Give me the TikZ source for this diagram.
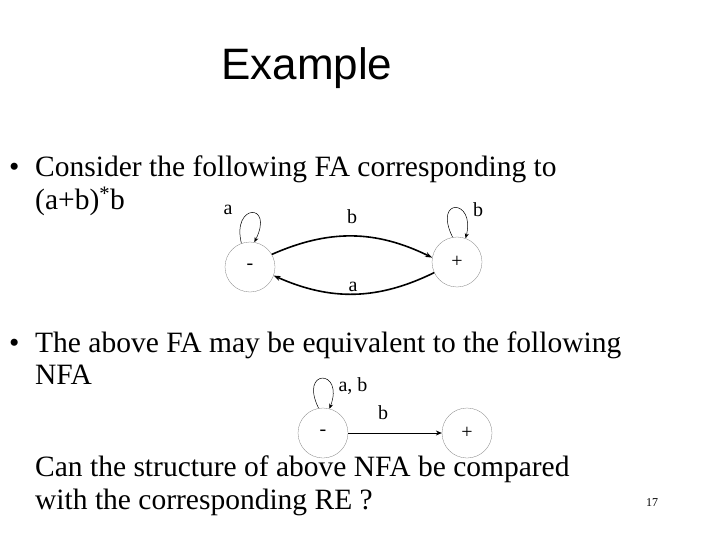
\documentclass[tikz,border=0pt]{standalone}
\usepackage{fontspec}
\setmainfont{Liberation Serif}
\newfontfamily\arialf{Liberation Sans}
\usetikzlibrary{arrows.meta}
\begin{document}
\begin{tikzpicture}[x=1pt,y=-1pt,
  st/.style={circle,draw=black!50,line width=0.3pt,minimum size=50pt,inner sep=0pt,font=\fontsize{20}{22}\selectfont},
  tx/.style={anchor=base west,inner sep=0pt,font=\fontsize{29.5}{32}\selectfont},
  lb/.style={inner sep=1pt,font=\fontsize{20}{22}\selectfont},
  ed/.style={line width=1.6pt,-{Stealth[length=7pt,width=5pt]}},
  lp/.style={line width=0.5pt,-{Stealth[length=5pt,width=4pt]}}]
\useasboundingbox (0,0) rectangle (720,540);
\node[anchor=base west,inner sep=0pt,font=\arialf\fontsize{44}{46}\selectfont] (title) at (221,80) {Example};
\node[tx] (b1) at (9,177) {•};
\node[tx] (l1) at (35,177) {Consider the following FA corresponding to};
\node[tx] (l2) at (35,210) {(a+b)\textsuperscript{*}b};
\node[st] (m) at (250,267) {-};
\node[st] (p) at (457,262) {+};
\draw[ed] (m.30) to[bend left=25] (p.170);
\draw[ed] (p.205) to[bend left=25] (m.340);
\node[lb] (lb1) at (352,217) {b};
\node[lb] (la1) at (353,287) {a};
\draw[lp] (m.110) .. controls +(-10,-40) and +(20,-40) .. (m.80);
\node[lb] (la0) at (228,210) {a};
\draw[lp] (p.100) .. controls +(-20,-40) and +(10,-40) .. (p.70);
\node[lb] (lb0) at (478,210) {b};
\node[tx] (b2) at (9,352) {•};
\node[tx] (l3) at (35,352) {The above FA may be equivalent to the following};
\node[tx] (l4) at (35,384) {NFA};
\node[st] (n1) at (323,433) {-};
\node[st] (n2) at (467,433) {+};
\draw[lp] (n1.100) .. controls +(-20,-40) and +(15,-40) .. (n1.75);
\node[lb] (lab) at (353,386) {a, b};
\draw[line width=1pt,-{Stealth[length=6pt,width=5pt]}] (n1) -- (n2);
\node[lb] (lbn) at (383,413) {b};
\node[tx] (l5) at (35,476) {Can the structure of above NFA be compared};
\node[tx] (l6) at (35,509) {with the corresponding RE ?};
\node[anchor=base west,inner sep=0pt,font=\fontsize{12}{14}\selectfont] (pg) at (646,506) {17};
\end{tikzpicture}
\end{document}
